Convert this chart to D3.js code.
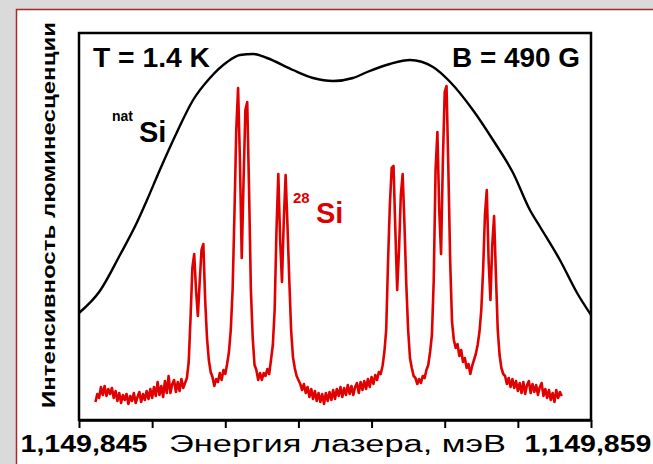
<!DOCTYPE html>
<html><head><meta charset="utf-8">
<script src="https://cdn.jsdelivr.net/npm/d3@7"></script>
<style>
html,body{margin:0;padding:0;background:#dadada;}
svg{display:block;font-family:"Liberation Sans",Arial,sans-serif;}
</style></head>
<body>
<svg id="chart" width="653" height="464"></svg>
<script>
// ---- data ----
const xDomain = [1149845, 1149859];          // laser energy (axis labels as printed)
const xTicks = [1149845, 1149847, 1149849, 1149851, 1149853, 1149855, 1149857, 1149859];
const xTickLabels = ["1,149,845", "", "", "", "", "", "", "1,149,859"];
const yDomain = [0, 387];                    // luminescence intensity, arb. units

// natSi broad band (energy, intensity)
const natSiEnergy = [1149845.00, 1149845.57, 1149846.12, 1149846.59, 1149846.86, 1149847.21, 1149847.68,
  1149848.12, 1149848.58, 1149849.05, 1149849.40, 1149849.76, 1149850.14, 1149850.85, 1149851.40,
  1149851.95, 1149852.49, 1149852.88, 1149853.50, 1149854.05, 1149854.68, 1149855.15, 1149855.77,
  1149856.32, 1149856.87, 1149857.33, 1149857.61, 1149858.15, 1149858.62, 1149859.00];
const natSiIntensity = [107, 129, 165, 198, 220, 250, 288, 320, 342, 358, 365, 366, 362, 350, 342,
  339, 342, 348, 356, 360, 353, 338, 310, 280, 247, 210, 193, 160, 127, 105];

// 28Si scan: start energy, step, and measured intensities
const scanStart = 1149845.45;
const scanStep = 0.05;
const si28Intensity = [
  18,26,22,33,25,34,24,31,26,32, 22,29,19,27,17,25,20,26,16,24,
  19,27,17,23,28,18,26,20,29,21, 31,22,33,24,38,25,34,23,39,27,
  44,27,36,40,28,38,29,41,32,37, 42,58,102,152,166,130,104,138,170,176,
  120,82,60,48,43,34,41,38,47,40, 50,46,56,68,90,130,205,290,332,260,
  162,240,310,318,230,130,82,55,50,40, 47,40,47,44,51,46,60,75,110,190,
  246,180,138,200,245,195,140,90,63,52, 44,40,36,30,36,27,33,23,31,21,
  29,19,27,18,26,16,27,19,28,20, 30,21,31,24,33,23,32,25,35,26,
  34,25,33,37,27,38,30,39,31,41, 33,43,36,45,40,48,46,54,68,90,
  158,215,252,254,190,130,170,225,246,195, 135,90,62,52,44,42,36,41,37,44,
  42,50,55,68,85,140,250,288,210,166, 260,328,334,250,158,98,80,72,76,64,
  70,58,62,52,56,46,54,60,66,75, 88,110,150,205,230,160,120,175,204,145,
  90,65,52,46,44,36,42,33,41,32, 39,29,37,27,38,26,35,39,27,36,
  28,35,25,33,37,24,31,22,30,20, 27,18,30,22,28,24];

// ---- drawing ----
const svg = d3.select("#chart");
const plot = {left: 79, right: 591, top: 33, bottom: 420};

const x = d3.scaleLinear().domain(xDomain).range([plot.left, plot.right]);
const y = d3.scaleLinear().domain(yDomain).range([plot.bottom, plot.top]);

// outer red frame with white fill
svg.append("rect").attr("x", 16.5).attr("y", 9.5).attr("width", 700).attr("height", 500)
  .attr("fill", "#ffffff").attr("stroke", "#a52a2a").attr("stroke-width", 1.5);

// y-axis title
svg.append("text")
  .attr("transform", `translate(55,${(22 + 408) / 2}) rotate(-90)`)
  .attr("text-anchor", "middle").attr("font-weight", "bold").attr("font-size", 18)
  .attr("textLength", 386).attr("lengthAdjust", "spacingAndGlyphs")
  .text("Интенсивность люминесценции");

// natSi curve
const natSi = natSiEnergy.map((e, i) => [e, natSiIntensity[i]]);
svg.append("path").datum(natSi)
  .attr("fill", "none").attr("stroke", "#000").attr("stroke-width", 2.4)
  .attr("d", d3.line().x(d => x(d[0])).y(d => y(d[1])).curve(d3.curveMonotoneX));

// 28Si spectrum
const si28 = si28Intensity.map((v, i) => [scanStart + i * scanStep, v]);
svg.append("path").datum(si28)
  .attr("fill", "none").attr("stroke", "#e00000").attr("stroke-width", 2.6)
  .attr("stroke-linejoin", "round")
  .attr("d", d3.line().x(d => x(d[0])).y(d => y(d[1])));

// plot box
svg.append("rect").attr("x", plot.left).attr("y", plot.top)
  .attr("width", plot.right - plot.left).attr("height", plot.bottom - plot.top)
  .attr("fill", "none").attr("stroke", "#000").attr("stroke-width", 2.5);

// bottom axis
const labelShift = [4.5, 0, 0, 0, 0, 0, 0, -3.5];
const axis = d3.axisBottom(x).tickValues(xTicks).tickSize(8).tickSizeOuter(0)
  .tickFormat((d, i) => xTickLabels[i]);
const gx = svg.append("g").attr("transform", `translate(0,${plot.bottom})`).call(axis);
gx.select(".domain").attr("stroke", "#000").attr("stroke-width", 2.5);
gx.selectAll(".tick line").attr("stroke", "#000").attr("stroke-width", 2);
gx.selectAll(".tick text")
  .attr("y", 32).attr("dy", 0)
  .attr("font-family", "'Liberation Sans',Arial,sans-serif")
  .attr("font-weight", "bold").attr("font-size", 23).attr("fill", "#000")
  .each(function(d, i) {
    if (xTickLabels[i]) d3.select(this).attr("x", labelShift[i])
      .attr("textLength", 127).attr("lengthAdjust", "spacingAndGlyphs");
  });

// x-axis title
svg.append("text").attr("x", (169 + 506) / 2).attr("y", 452)
  .attr("text-anchor", "middle").attr("font-size", 23)
  .attr("textLength", 337).attr("lengthAdjust", "spacingAndGlyphs")
  .text("Энергия лазера, мэВ");

// annotations
svg.append("text").attr("x", 93).attr("y", 67).attr("font-weight", "bold").attr("font-size", 27)
  .attr("textLength", 117).attr("lengthAdjust", "spacingAndGlyphs").text("T = 1.4 K");
svg.append("text").attr("x", 580).attr("y", 67).attr("text-anchor", "end").attr("font-weight", "bold")
  .attr("font-size", 27).attr("textLength", 128).attr("lengthAdjust", "spacingAndGlyphs").text("B = 490 G");

const nat = svg.append("text").attr("font-weight", "bold").attr("fill", "#000");
nat.append("tspan").attr("x", 112).attr("y", 121).attr("font-size", 14).text("nat");
nat.append("tspan").attr("x", 139).attr("y", 142).attr("font-size", 29).text("Si");

const s28 = svg.append("text").attr("font-weight", "bold").attr("fill", "#dd0000");
s28.append("tspan").attr("x", 293).attr("y", 203).attr("font-size", 15).text("28");
s28.append("tspan").attr("x", 316).attr("y", 223).attr("font-size", 29).text("Si");
</script>
</body></html>
